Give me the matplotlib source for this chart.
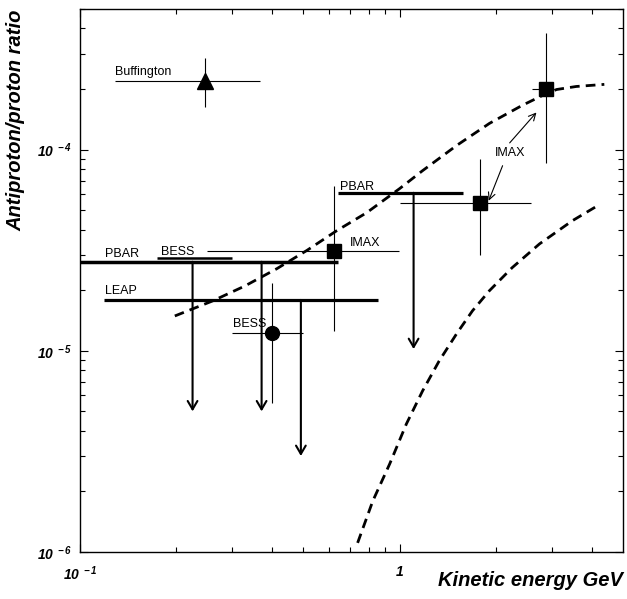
import matplotlib
matplotlib.use('Agg')
import matplotlib.pyplot as plt
from matplotlib.ticker import NullFormatter

plt.rcParams['font.family'] = ['Liberation Sans', 'DejaVu Sans']
plt.rcParams['mathtext.fontset'] = 'custom'
plt.rcParams['mathtext.rm'] = 'Liberation Sans:italic:bold'
plt.rcParams['mathtext.it'] = 'Liberation Sans:italic:bold'
plt.rcParams['mathtext.bf'] = 'Liberation Sans:italic:bold'

# ---------------- data ----------------
# Buffington (triangle)
buff_E = [0.246]
buff_R = [2.2e-4]
buff_E_lo = [0.1286]
buff_E_hi = [0.365]
buff_R_lo = [1.62e-4]
buff_R_hi = [2.84e-4]

# IMAX (squares)
imax_E = [0.622, 1.79, 2.88]
imax_R = [3.15e-5, 5.45e-5, 1.99e-4]
imax_E_lo = [0.249, 1.0, 2.60]
imax_E_hi = [0.993, 2.585, 3.05]
imax_R_lo = [1.26e-5, 3.0e-5, 8.6e-5]
imax_R_hi = [6.6e-5, 9.0e-5, 3.82e-4]

# BESS (circle)
bess_E = [0.40]
bess_R = [1.22e-5]
bess_E_lo = [0.298]
bess_E_hi = [0.498]
bess_R_lo = [5.5e-6]
bess_R_hi = [2.18e-5]

# Upper-limit bands (horizontal bars)
limit_names = ['PBAR', 'BESS', 'LEAP', 'PBAR']
limit_E_lo = [0.1, 0.174, 0.119, 0.64]
limit_E_hi = [0.64, 0.298, 0.853, 1.575]
limit_R = [2.77e-5, 2.9e-5, 1.79e-5, 6.1e-5]

# Downward arrows (upper limits)
arrow_E = [0.225, 0.37, 0.491, 1.106]
arrow_R_top = [2.77e-5, 2.77e-5, 1.79e-5, 6.1e-5]
arrow_R_tip = [5.0e-6, 5.0e-6, 3.0e-6, 1.02e-5]

# Dashed model curves
upper_E = [0.198, 0.260, 0.328, 0.413, 0.512, 0.635, 0.789, 1.0, 1.18,
           1.51, 1.91, 2.42, 2.88, 3.10, 3.57, 4.37]
upper_R = [1.49e-5, 1.77e-5, 2.10e-5, 2.56e-5, 3.15e-5, 3.95e-5, 4.86e-5,
           6.40e-5, 7.86e-5, 1.05e-4, 1.35e-4, 1.66e-4, 1.90e-4, 1.99e-4,
           2.06e-4, 2.11e-4]
lower_E = [0.739, 0.824, 0.931, 1.05, 1.18, 1.33, 1.51, 1.69, 1.91, 2.25,
           2.74, 3.47, 4.22]
lower_R = [1.11e-6, 1.79e-6, 2.74e-6, 4.33e-6, 6.32e-6, 8.91e-6, 1.22e-5,
           1.58e-5, 1.99e-5, 2.59e-5, 3.40e-5, 4.43e-5, 5.33e-5]

x_ticks = [0.1, 1]
x_ticklabels = [r'$10^{\ -1}$', r'$1$']
y_ticks = [1e-6, 1e-5, 1e-4]
y_ticklabels = [r'$10^{\ -6}$', r'$10^{\ -5}$', r'$10^{\ -4}$']

# ---------------- figure ----------------
fig = plt.figure(figsize=(6.27, 5.99), dpi=100)
ax = fig.add_axes([80 / 627, 47 / 599, 543 / 627, 543 / 599])
ax.set_xscale('log')
ax.set_yscale('log')
ax.set_xlim(0.1, 5)
ax.set_ylim(1e-6, 5e-4)

# model curves
ax.plot(upper_E, upper_R, color='black', lw=2, ls=(0, (3.5, 2.2)))
ax.plot(lower_E, lower_R, color='black', lw=2, ls=(0, (3.5, 2.2)))

# upper-limit bars
limit_lw = [2.5, 1.8, 2.3, 2.3]
for lo, hi, r, w in zip(limit_E_lo, limit_E_hi, limit_R, limit_lw):
    ax.plot([lo, hi], [r, r], color='black', lw=w, solid_capstyle='butt')

for e, top, tip in zip(arrow_E, arrow_R_top, arrow_R_tip):
    ax.annotate('', xy=(e, tip), xytext=(e, top),
                arrowprops=dict(arrowstyle='->,head_length=0.6,head_width=0.35',
                                lw=1.5, color='black', shrinkA=0, shrinkB=0))

# Buffington
ax.errorbar(buff_E, buff_R,
            xerr=[[b - a for a, b in zip(buff_E_lo, buff_E)],
                  [a - b for a, b in zip(buff_E_hi, buff_E)]],
            yerr=[[b - a for a, b in zip(buff_R_lo, buff_R)],
                  [a - b for a, b in zip(buff_R_hi, buff_R)]],
            fmt='^', ms=11, color='black', elinewidth=0.8, capsize=0)

# IMAX
ax.errorbar(imax_E, imax_R,
            xerr=[[b - a for a, b in zip(imax_E_lo, imax_E)],
                  [a - b for a, b in zip(imax_E_hi, imax_E)]],
            yerr=[[b - a for a, b in zip(imax_R_lo, imax_R)],
                  [a - b for a, b in zip(imax_R_hi, imax_R)]],
            fmt='s', ms=10, color='black', elinewidth=0.8, capsize=0)

# BESS
ax.errorbar(bess_E, bess_R,
            xerr=[[b - a for a, b in zip(bess_E_lo, bess_E)],
                  [a - b for a, b in zip(bess_E_hi, bess_E)]],
            yerr=[[b - a for a, b in zip(bess_R_lo, bess_R)],
                  [a - b for a, b in zip(bess_R_hi, bess_R)]],
            fmt='o', ms=10, color='black', elinewidth=0.8, capsize=0)

# labels
fs = 9
ax.text(0.1286, 2.42e-4, 'Buffington', fontsize=fs, va='center', ha='left')
ax.text(0.1197, 3.04e-5, 'PBAR', fontsize=fs, va='center', ha='left')
ax.text(0.179, 3.10e-5, 'BESS', fontsize=fs, va='center', ha='left')
ax.text(0.1197, 1.99e-5, 'LEAP', fontsize=fs, va='center', ha='left')
ax.text(0.301, 1.36e-5, 'BESS', fontsize=fs, va='center', ha='left')
ax.text(0.698, 3.44e-5, 'IMAX', fontsize=fs, va='center', ha='left')
ax.text(0.649, 6.55e-5, 'PBAR', fontsize=fs, va='center', ha='left')
ax.text(2.22, 9.66e-5, 'IMAX', fontsize=fs, va='center', ha='center')
ax.annotate('', xy=(2.68, 1.53e-4), xytext=(2.21, 1.08e-4),
            arrowprops=dict(arrowstyle='->,head_length=0.5,head_width=0.25',
                            lw=0.8, color='black', shrinkA=0, shrinkB=0))
ax.annotate('', xy=(1.90, 5.57e-5), xytext=(2.10, 8.32e-5),
            arrowprops=dict(arrowstyle='->,head_length=0.5,head_width=0.25',
                            lw=0.8, color='black', shrinkA=0, shrinkB=0))

# ticks
ax.set_xticks(x_ticks, labels=x_ticklabels)
ax.set_xticks([0.2, 0.3, 0.4, 0.5, 0.6, 0.7, 0.8, 0.9, 2, 3, 4], minor=True)
ax.set_yticks(y_ticks, labels=y_ticklabels)
ax.set_yticks([m * d for d in (1e-6, 1e-5, 1e-4) for m in range(2, 10)
               if m * d <= 5e-4], minor=True)
ax.xaxis.set_minor_formatter(NullFormatter())
ax.yaxis.set_minor_formatter(NullFormatter())
ax.tick_params(which='both', direction='in', top=True, right=True, width=0.8,
               labelsize=10)
ax.tick_params(which='major', length=6)
ax.tick_params(which='minor', length=3.5)
ax.tick_params(axis='x', which='major', pad=9)
ax.tick_params(axis='y', which='major', pad=6)
for s in ax.spines.values():
    s.set_linewidth(1)

ax.set_ylabel('Antiproton/proton ratio', fontsize=14.5, fontweight='bold',
              fontstyle='italic')
ax.yaxis.set_label_coords(-0.101, 0.7956)
ax.set_xlabel('Kinetic energy GeV', fontsize=14.5, fontweight='bold',
              fontstyle='italic', loc='right')
ax.xaxis.set_label_coords(1.0, -0.035)

fig.savefig('out.png', dpi=100)
